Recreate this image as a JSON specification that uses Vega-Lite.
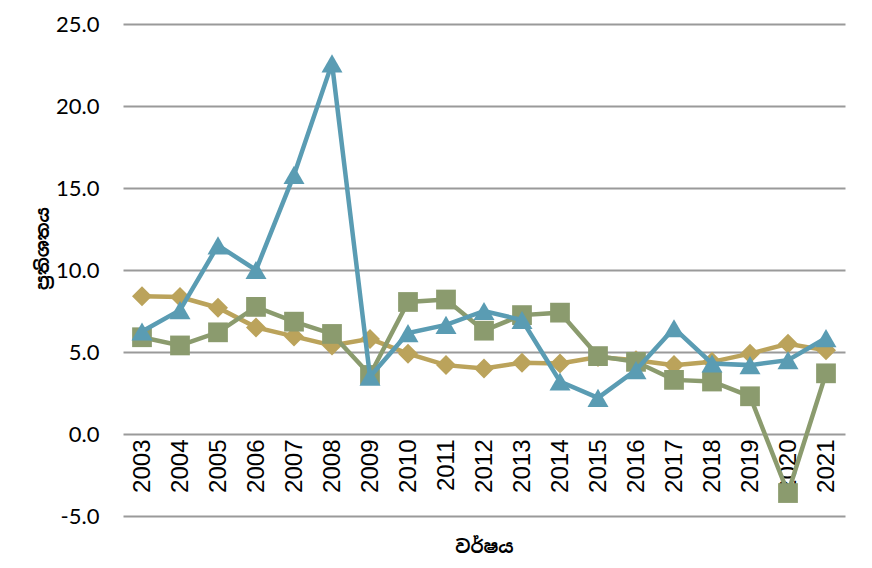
{
  "$schema": "https://vega.github.io/schema/vega-lite/v6.json",
  "width": 722,
  "height": 492,
  "autosize": "none",
  "padding": {"left": 123, "top": 24, "right": 27, "bottom": 52},
  "background": "white",
  "config": {"view": {"stroke": null}},
  "data": {"values": [
    {"year": "2003", "series": "s1", "value": 8.4},
    {"year": "2004", "series": "s1", "value": 8.35},
    {"year": "2005", "series": "s1", "value": 7.7},
    {"year": "2006", "series": "s1", "value": 6.5},
    {"year": "2007", "series": "s1", "value": 5.95},
    {"year": "2008", "series": "s1", "value": 5.4},
    {"year": "2009", "series": "s1", "value": 5.8},
    {"year": "2010", "series": "s1", "value": 4.9},
    {"year": "2011", "series": "s1", "value": 4.2},
    {"year": "2012", "series": "s1", "value": 4.0},
    {"year": "2013", "series": "s1", "value": 4.35},
    {"year": "2014", "series": "s1", "value": 4.3},
    {"year": "2015", "series": "s1", "value": 4.7},
    {"year": "2016", "series": "s1", "value": 4.5},
    {"year": "2017", "series": "s1", "value": 4.2},
    {"year": "2018", "series": "s1", "value": 4.4},
    {"year": "2019", "series": "s1", "value": 4.9},
    {"year": "2020", "series": "s1", "value": 5.5},
    {"year": "2021", "series": "s1", "value": 5.1},
    {"year": "2003", "series": "s2", "value": 5.9},
    {"year": "2004", "series": "s2", "value": 5.4},
    {"year": "2005", "series": "s2", "value": 6.2},
    {"year": "2006", "series": "s2", "value": 7.75},
    {"year": "2007", "series": "s2", "value": 6.85},
    {"year": "2008", "series": "s2", "value": 6.1},
    {"year": "2009", "series": "s2", "value": 3.6},
    {"year": "2010", "series": "s2", "value": 8.05},
    {"year": "2011", "series": "s2", "value": 8.2},
    {"year": "2012", "series": "s2", "value": 6.3},
    {"year": "2013", "series": "s2", "value": 7.25},
    {"year": "2014", "series": "s2", "value": 7.4},
    {"year": "2015", "series": "s2", "value": 4.75},
    {"year": "2016", "series": "s2", "value": 4.4},
    {"year": "2017", "series": "s2", "value": 3.3},
    {"year": "2018", "series": "s2", "value": 3.2},
    {"year": "2019", "series": "s2", "value": 2.3},
    {"year": "2020", "series": "s2", "value": -3.6},
    {"year": "2021", "series": "s2", "value": 3.7},
    {"year": "2003", "series": "s3", "value": 6.25},
    {"year": "2004", "series": "s3", "value": 7.55},
    {"year": "2005", "series": "s3", "value": 11.5},
    {"year": "2006", "series": "s3", "value": 10.0},
    {"year": "2007", "series": "s3", "value": 15.8},
    {"year": "2008", "series": "s3", "value": 22.6},
    {"year": "2009", "series": "s3", "value": 3.5},
    {"year": "2010", "series": "s3", "value": 6.15},
    {"year": "2011", "series": "s3", "value": 6.65},
    {"year": "2012", "series": "s3", "value": 7.5},
    {"year": "2013", "series": "s3", "value": 6.95},
    {"year": "2014", "series": "s3", "value": 3.2},
    {"year": "2015", "series": "s3", "value": 2.2},
    {"year": "2016", "series": "s3", "value": 3.9},
    {"year": "2017", "series": "s3", "value": 6.45},
    {"year": "2018", "series": "s3", "value": 4.3},
    {"year": "2019", "series": "s3", "value": 4.2},
    {"year": "2020", "series": "s3", "value": 4.5},
    {"year": "2021", "series": "s3", "value": 5.85}
  ]},
  "encoding": {
    "x": {
      "field": "year", "type": "ordinal",
      "scale": {"paddingInner": 0, "paddingOuter": 0.5},
      "axis": {
        "title": "වර්ෂය",
        "titleFont": "Noto Sans Sinhala, Noto Sans, sans-serif",
        "titleFontSize": 18,
        "titleFontWeight": "bold",
        "titleColor": "black",
        "titleY": 118,
        "titleBaseline": "alphabetic",
        "labelAngle": -90,
        "labelFont": "Liberation Sans",
        "labelFontSize": 24,
        "labelColor": "black",
        "labelPadding": 5,
        "ticks": false,
        "domain": false,
        "offset": -82
      }
    },
    "y": {
      "field": "value", "type": "quantitative",
      "scale": {"domain": [-5, 25], "nice": false, "zero": false},
      "axis": {
        "title": "ප්‍රතිශතය",
        "titleFont": "Noto Sans Sinhala, Noto Sans, sans-serif",
        "titleFontSize": 18,
        "titleFontWeight": "bold",
        "titleColor": "black",
        "titleX": -80,
        "titleY": 224,
        "titleAlign": "center",
        "titleBaseline": "middle",
        "values": [-5, 0, 5, 10, 15, 20, 25],
        "format": ".1f",
        "labelExpr": "replace(datum.label, '−', '-')",
        "labelFont": "Lato",
        "labelFontSize": 22,
        "labelColor": "black",
        "labelPadding": 24,
        "ticks": false,
        "domain": false,
        "grid": true,
        "gridColor": "#9a9a9a",
        "gridWidth": 2
      }
    }
  },
  "layer": [
    {
      "transform": [{"filter": "datum.series === 's1'"}],
      "mark": {"type": "line", "strokeWidth": 4.5, "color": "#BBA35B"}
    },
    {
      "transform": [{"filter": "datum.series === 's1'"}],
      "mark": {"type": "point", "filled": true, "opacity": 1, "shape": "M0,-1L1,0L0,1L-1,0Z", "size": 400, "color": "#BBA35B"}
    },
    {
      "transform": [{"filter": "datum.series === 's2'"}],
      "mark": {"type": "line", "strokeWidth": 4.5, "color": "#8B9B6E"}
    },
    {
      "transform": [{"filter": "datum.series === 's2'"}],
      "mark": {"type": "point", "filled": true, "opacity": 1, "shape": "square", "size": 390, "color": "#8B9B6E"}
    },
    {
      "transform": [{"filter": "datum.series === 's3'"}],
      "mark": {"type": "line", "strokeWidth": 4.5, "color": "#5A9CB3"}
    },
    {
      "transform": [{"filter": "datum.series === 's3'"}],
      "mark": {"type": "point", "filled": true, "opacity": 1, "shape": "M-1,0.866L1,0.866L0,-0.866Z", "size": 441, "color": "#5A9CB3"}
    }
  ]
}
